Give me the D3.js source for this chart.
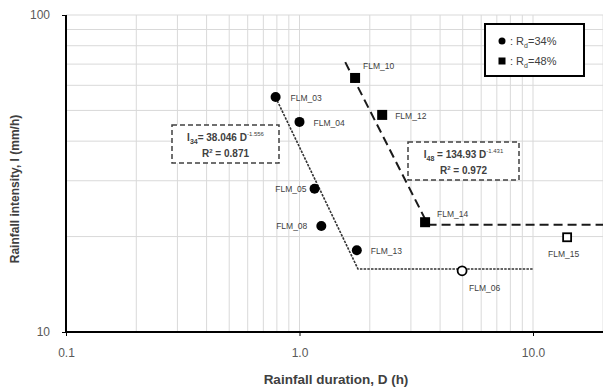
<!DOCTYPE html>
<html>
<head>
<meta charset="utf-8">
<script src="https://cdn.jsdelivr.net/npm/d3@7"></script>
<style>
  body { margin: 0; background: #fff; }
  svg { display: block; font-family: "Liberation Sans", Arial, sans-serif; }
  .grid line { stroke: #d9d9d9; stroke-width: 1; }
  .axis path, .axis line { stroke: #000; }
  .axis text { fill: #595959; font-size: 12px; }
  .lbl { font-size: 8.5px; fill: #404040; }
  .eq { font-size: 10px; font-weight: bold; fill: #404040; }
</style>
</head>
<body>
<div class="diagram"></div>
<script>
var width = 603, height = 389;

// data
var names34 = ["FLM_03", "FLM_04", "FLM_05", "FLM_08", "FLM_13", "FLM_06"];
var dur34   = [0.79, 1.00, 1.16, 1.24, 1.76, 4.97];
var int34   = [55.1, 46.0, 28.3, 21.6, 18.1, 15.6];
var open34  = [false, false, false, false, false, true];

var names48 = ["FLM_10", "FLM_12", "FLM_14", "FLM_15"];
var dur48   = [1.73, 2.26, 3.45, 14.0];
var int48   = [63.3, 48.4, 22.2, 19.9];
var open48  = [false, false, false, true];

// fitted lines (knee + plateau)
var fit34D = [0.79, 1.78, 10];
var fit34I = [55.0, 15.8, 15.8];
var fit48D = [1.57, 3.55, 20];
var fit48I = [71.0, 21.8, 21.8];

var xTicks = [0.1, 1, 10], xTickLabels = ["0.1", "1.0", "10.0"];
var yTicks = [10, 100], yTickLabels = ["10", "100"];

var svg = d3.select('.diagram')
  .append('svg')
  .attr('width', width)
  .attr('height', height);

var x = d3.scaleLog().domain([0.1, 20]).range([66, 66 + 233.5 * Math.log10(200)]),
    y = d3.scaleLog().domain([10, 100]).range([332, 15]);

// gridlines
var xGrid = [], yGrid = [];
[0.1, 1, 10].forEach(function(dec) {
  for (var k = 1; k < 10; k++) { if (dec * k <= 20) xGrid.push(dec * k); }
});
xGrid.push(20);
for (var k = 2; k <= 10; k++) yGrid.push(10 * k);

var grid = svg.append('g').attr('class', 'grid');
grid.selectAll('.vx').data(xGrid).enter().append('line')
  .attr('x1', function(d) { return x(d); }).attr('x2', function(d) { return x(d); })
  .attr('y1', y(100)).attr('y2', y(10));
grid.selectAll('.hy').data(yGrid).enter().append('line')
  .attr('x1', x(0.1)).attr('x2', width)
  .attr('y1', function(d) { return y(d); }).attr('y2', function(d) { return y(d); });

// axes
svg.append('g')
  .attr('class', 'axis axis--x')
  .attr('transform', 'translate(0,' + y(10) + ')')
  .call(d3.axisBottom(x).tickValues(xTicks).tickSize(4).tickPadding(12)
    .tickFormat(function(d, i) { return xTickLabels[i]; }))
  .call(function(g) { g.select('.domain').attr('stroke-width', 2).attr('d', 'M' + x(0.1) + ',0H' + width); });

svg.append('g')
  .attr('class', 'axis axis--y')
  .attr('transform', 'translate(' + x(0.1) + ',0)')
  .call(d3.axisLeft(y).tickValues(yTicks).tickSize(4).tickPadding(12)
    .tickFormat(function(d, i) { return yTickLabels[i]; }))
  .call(function(g) { g.select('.domain').attr('stroke-width', 2).attr('d', 'M0,' + y(100) + 'V' + y(10)); });

svg.append('text')
  .attr('x', 336).attr('y', 384)
  .attr('text-anchor', 'middle')
  .attr('font-size', '13.5px').attr('font-weight', 'bold').attr('fill', '#404040')
  .text('Rainfall duration, D (h)');

svg.append('text')
  .attr('transform', 'translate(19,189) rotate(-90)')
  .attr('text-anchor', 'middle')
  .attr('font-size', '12px').attr('font-weight', 'bold').attr('fill', '#404040')
  .text('Rainfall intensity, I (mm/h)');

// fitted lines
var line = d3.line()
  .x(function(d) { return x(d[0]); })
  .y(function(d) { return y(d[1]); });

svg.append('path')
  .attr('d', line(d3.zip(fit34D, fit34I)))
  .attr('fill', 'none').attr('stroke', '#333')
  .attr('stroke-width', 1.6).attr('stroke-dasharray', '2.5,1.2');

svg.append('path')
  .attr('d', line(d3.zip(fit48D, fit48I)))
  .attr('fill', 'none').attr('stroke', '#1a1a1a')
  .attr('stroke-width', 2).attr('stroke-dasharray', '9,5');

// equation boxes
function eqBox(x0, y0, w, h, sub, rest, sup, r2) {
  var g = svg.append('g');
  g.append('rect')
    .attr('x', x0).attr('y', y0).attr('width', w).attr('height', h)
    .attr('fill', '#fff').attr('stroke', '#404040')
    .attr('stroke-width', 1.5).attr('stroke-dasharray', '5,3');
  var t = g.append('text').attr('class', 'eq')
    .attr('x', x0 + w / 2).attr('y', y0 + 16).attr('text-anchor', 'middle');
  t.append('tspan').text('I');
  t.append('tspan').attr('font-size', '7px').attr('dy', 3).text(sub);
  t.append('tspan').attr('dy', -3).text(rest);
  t.append('tspan').attr('font-size', '6px').attr('dy', -5).attr('font-weight', 'normal').text(sup);
  var t2 = g.append('text').attr('class', 'eq')
    .attr('x', x0 + w / 2).attr('y', y0 + 32).attr('text-anchor', 'middle');
  t2.append('tspan').text('R');
  t2.append('tspan').attr('font-size', '6px').attr('dy', -4).text('2');
  t2.append('tspan').attr('dy', 4).text(' = ' + r2);
}
eqBox(172, 125, 107, 38, '34', '= 38.046 D', '-1.556', '0.871');
eqBox(408, 142, 111, 38, '48', ' = 134.93 D', '-1.431', '0.972');

// points
var pts34 = names34.map(function(n, i) { return {name: n, d: dur34[i], v: int34[i], open: open34[i]}; });
var pts48 = names48.map(function(n, i) { return {name: n, d: dur48[i], v: int48[i], open: open48[i]}; });

svg.selectAll('.c34').data(pts34).enter().append('circle')
  .attr('cx', function(d) { return x(d.d); })
  .attr('cy', function(d) { return y(d.v); })
  .attr('r', function(d) { return d.open ? 4.5 : 5; })
  .attr('fill', function(d) { return d.open ? '#fff' : '#000'; })
  .attr('stroke', '#000')
  .attr('stroke-width', function(d) { return d.open ? 1.8 : 0; });

svg.selectAll('.s48').data(pts48).enter().append('rect')
  .attr('x', function(d) { return x(d.d) - (d.open ? 4 : 5); })
  .attr('y', function(d) { return y(d.v) - (d.open ? 4 : 5); })
  .attr('width', function(d) { return d.open ? 8 : 10; })
  .attr('height', function(d) { return d.open ? 8 : 10; })
  .attr('fill', function(d) { return d.open ? '#fff' : '#000'; })
  .attr('stroke', '#000')
  .attr('stroke-width', function(d) { return d.open ? 1.8 : 0; });

// point labels: offset from marker, anchor
var labelPos = {
  FLM_03: [15, 4, 'start'], FLM_04: [14, 4, 'start'], FLM_05: [-8, 3, 'end'],
  FLM_08: [-14, 3, 'end'], FLM_13: [14, 4, 'start'], FLM_06: [7, 20, 'start'],
  FLM_10: [8, -9, 'start'], FLM_12: [13, 4, 'start'], FLM_14: [12, -5, 'start'],
  FLM_15: [-19, 20, 'start']
};
svg.selectAll('.lbl').data(pts34.concat(pts48)).enter().append('text')
  .attr('class', 'lbl')
  .attr('x', function(d) { return x(d.d) + labelPos[d.name][0]; })
  .attr('y', function(d) { return y(d.v) + labelPos[d.name][1]; })
  .attr('text-anchor', function(d) { return labelPos[d.name][2]; })
  .text(function(d) { return d.name; });

// legend
var legend = svg.append('g');
legend.append('rect')
  .attr('x', 485).attr('y', 24).attr('width', 99).attr('height', 52)
  .attr('fill', '#fff').attr('stroke', '#000').attr('stroke-width', 2);
legend.append('circle').attr('cx', 502).attr('cy', 41).attr('r', 3.5).attr('fill', '#000');
legend.append('rect').attr('x', 498.5).attr('y', 57.5).attr('width', 7).attr('height', 7).attr('fill', '#000');
[['34%', 41], ['48%', 61]].forEach(function(e) {
  var t = legend.append('text').attr('x', 510).attr('y', e[1] + 4)
    .attr('font-size', '11px').attr('fill', '#404040');
  t.append('tspan').text(': R');
  t.append('tspan').attr('font-size', '7px').attr('dy', 3).text('d');
  t.append('tspan').attr('dy', -3).text('=' + e[0]);
});
</script>
</body>
</html>
